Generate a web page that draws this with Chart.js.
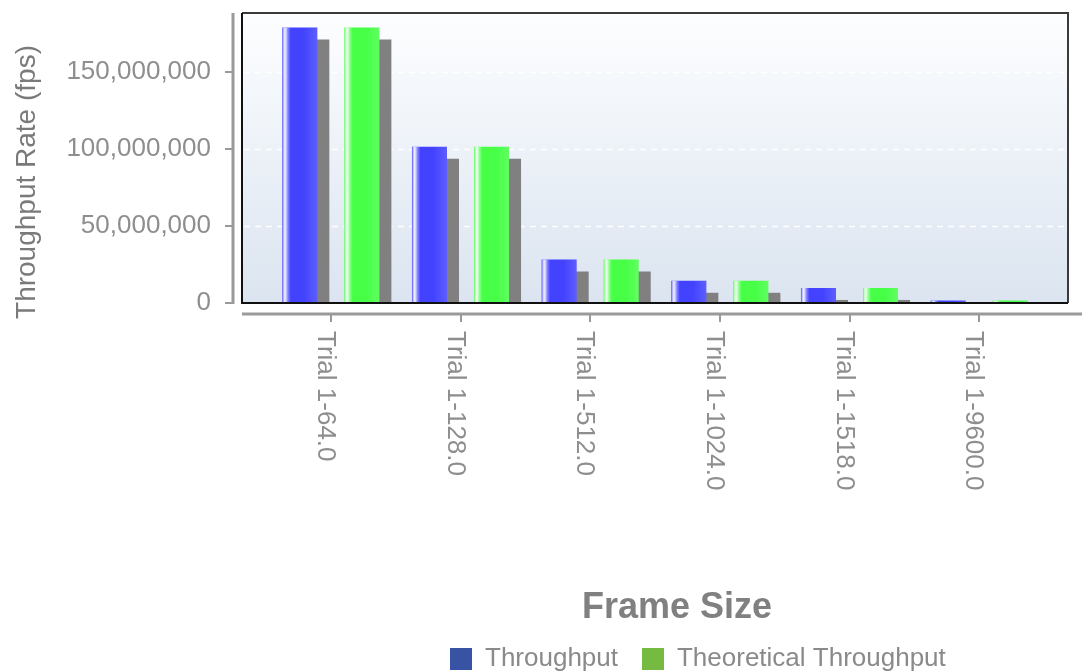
<!DOCTYPE html>
<html>
<head>
<meta charset="utf-8">
<title>Throughput by Frame Size</title>
<script src="https://cdn.jsdelivr.net/npm/chart.js@4.4.1/dist/chart.umd.min.js"></script>
<style>
  html, body { margin: 0; padding: 0; background: #ffffff; overflow: hidden; }
  canvas { display: block; }
</style>
</head>
<body>
<canvas id="chart" width="1082" height="672"></canvas>
<script>
// Frame sizes tested
const categories = ['Trial 1-64.0', 'Trial 1-128.0', 'Trial 1-512.0', 'Trial 1-1024.0', 'Trial 1-1518.0', 'Trial 1-9600.0'];
// Measured and theoretical frame rates (frames per second)
const throughput = [178600000, 101300000, 28200000, 14400000, 9750000, 1560000];
const theoreticalThroughput = [178600000, 101300000, 28200000, 14400000, 9750000, 1560000];
// Value axis
const yTicks = [0, 50000000, 100000000, 150000000];
const yMax = 188000000;
const seriesNames = ['Throughput', 'Theoretical Throughput'];

const FONT = '"Liberation Sans", Arial, Helvetica, sans-serif';
const barColors = ['#4343ff', '#46ff46'];
const legendColors = ['#3953a4', '#76bb41'];
const SHADOW = 12;      // drop shadow offset
const BOX_EXTRA = 24;   // frame extends beyond the category band
const PLOT_BOTTOM = 303;

function frameRect(chart) {
  const a = chart.chartArea;
  return { l: a.left - BOX_EXTRA, r: a.right + BOX_EXTRA, t: a.top, b: a.bottom };
}

const decorations = {
  id: 'decorations',
  afterLayout(chart) {
    // place the legend row under the axis title
    const lg = chart.legend;
    if (!lg || !lg.lineWidths) return;
    const pad = lg.options.labels.padding;
    const start = (lg.left + pad + lg.right - lg.lineWidths[0]) / 2;
    const dx = 450 - start;
    const dy = 646 - (lg.top + pad);
    lg.left += dx; lg.right += dx;
    lg.top += dy; lg.bottom += dy;
  },
  beforeDatasetsDraw(chart) {
    const ctx = chart.ctx;
    const f = frameRect(chart);
    const y = chart.scales.y;
    const x = chart.scales.x;

    // plot background
    const bg = ctx.createLinearGradient(0, f.t, 0, f.b);
    bg.addColorStop(0, '#fdfeff');
    bg.addColorStop(1, '#dbe4f0');
    ctx.save();
    ctx.fillStyle = bg;
    ctx.fillRect(f.l, f.t, f.r - f.l, f.b - f.t);

    // dashed grid lines
    ctx.strokeStyle = 'rgba(255,255,255,0.95)';
    ctx.lineWidth = 1.5;
    ctx.setLineDash([6, 5]);
    y.ticks.forEach(t => {
      if (t.value === 0) return;
      const py = Math.round(y.getPixelForValue(t.value)) + 0.5;
      ctx.beginPath(); ctx.moveTo(f.l + 2, py); ctx.lineTo(f.r - 2, py); ctx.stroke();
    });
    ctx.setLineDash([]);

    // detached value axis line with ticks
    ctx.strokeStyle = '#9a9a9a';
    ctx.lineWidth = 3;
    const ax = f.l - 9;
    ctx.beginPath(); ctx.moveTo(ax, f.t); ctx.lineTo(ax, f.b + 1); ctx.stroke();
    ctx.lineWidth = 2;
    y.ticks.forEach(t => {
      const py = Math.round(y.getPixelForValue(t.value));
      ctx.beginPath(); ctx.moveTo(ax - 8, py); ctx.lineTo(ax, py); ctx.stroke();
    });

    // detached category axis line with ticks
    const ay = f.b + 11;
    ctx.lineWidth = 3;
    ctx.beginPath(); ctx.moveTo(f.l, ay); ctx.lineTo(chart.width, ay); ctx.stroke();
    ctx.lineWidth = 2;
    categories.forEach((c, i) => {
      const px = Math.round(x.getPixelForValue(i));
      ctx.beginPath(); ctx.moveTo(px, ay); ctx.lineTo(px, ay + 8); ctx.stroke();
    });

    // bar drop shadows
    ctx.beginPath();
    ctx.rect(f.l, f.t, f.r - f.l, f.b - f.t);
    ctx.clip();
    ctx.fillStyle = '#808080';
    chart.data.datasets.forEach((ds, di) => {
      chart.getDatasetMeta(di).data.forEach(el => {
        const p = el.getProps(['x', 'y', 'base', 'width'], true);
        const l = p.x - p.width / 2 + SHADOW;
        const top = p.y + SHADOW;
        if (top < p.base) ctx.fillRect(l, top, p.width, p.base - top);
      });
    });
    ctx.restore();
  },
  afterDatasetsDraw(chart) {
    const ctx = chart.ctx;
    const f = frameRect(chart);
    ctx.save();
    // glossy highlight on each bar
    chart.data.datasets.forEach((ds, di) => {
      chart.getDatasetMeta(di).data.forEach(el => {
        const p = el.getProps(['x', 'y', 'base', 'width'], true);
        const l = p.x - p.width / 2;
        const g = ctx.createLinearGradient(l, 0, l + p.width, 0);
        g.addColorStop(0, 'rgba(255,255,255,0)');
        g.addColorStop(0.03, 'rgba(255,255,255,0.55)');
        g.addColorStop(0.07, 'rgba(255,255,255,0.92)');
        g.addColorStop(0.11, 'rgba(255,255,255,0.75)');
        g.addColorStop(0.16, 'rgba(255,255,255,0.35)');
        g.addColorStop(0.24, 'rgba(255,255,255,0)');
        g.addColorStop(0.62, 'rgba(255,255,255,0)');
        g.addColorStop(1, 'rgba(255,255,255,0.14)');
        ctx.fillStyle = g;
        ctx.fillRect(l, p.y, p.width, p.base - p.y);
      });
    });
    // plot frame
    ctx.lineWidth = 2;
    ctx.strokeStyle = '#3a3a3a';
    ctx.beginPath(); ctx.moveTo(f.l, f.t); ctx.lineTo(f.r, f.t); ctx.lineTo(f.r, f.b); ctx.stroke();
    ctx.strokeStyle = '#111111';
    ctx.beginPath(); ctx.moveTo(f.l, f.t); ctx.lineTo(f.l, f.b); ctx.lineTo(f.r, f.b); ctx.stroke();
    ctx.restore();
  },
  afterDraw(chart) {
    const ctx = chart.ctx;
    const x = chart.scales.x;
    const a = chart.chartArea;
    ctx.save();
    // category labels, rotated to read downward
    ctx.font = '26px ' + FONT;
    ctx.fillStyle = '#8e8e8e';
    ctx.textAlign = 'left';
    ctx.textBaseline = 'alphabetic';
    categories.forEach((c, i) => {
      const px = x.getPixelForValue(i);
      ctx.save();
      ctx.translate(px, a.bottom + 28);
      ctx.rotate(Math.PI / 2);
      ctx.fillText(c, 0, 13);
      ctx.restore();
    });
    // value axis title
    ctx.font = '28px ' + FONT;
    ctx.fillStyle = '#7a7a7a';
    ctx.textAlign = 'center';
    ctx.textBaseline = 'middle';
    ctx.save();
    ctx.translate(27, 182);
    ctx.rotate(-Math.PI / 2);
    ctx.fillText('Throughput Rate (fps)', 0, 0);
    ctx.restore();
    // category axis title
    ctx.font = 'bold 36px ' + FONT;
    ctx.fillStyle = '#808080';
    ctx.fillText('Frame Size', (a.left + a.right) / 2 + 22, 608);
    ctx.restore();
  }
};

new Chart(document.getElementById('chart'), {
  type: 'bar',
  data: {
    labels: categories,
    datasets: [
      { label: seriesNames[0], data: throughput, backgroundColor: barColors[0], borderWidth: 0 },
      { label: seriesNames[1], data: theoreticalThroughput, backgroundColor: barColors[1], borderWidth: 0 }
    ]
  },
  options: {
    responsive: false,
    animation: false,
    events: [],
    categoryPercentage: 0.957,
    barPercentage: 0.565,
    layout: { padding: { top: 13, right: 38, bottom: 0, left: 0 } },
    scales: {
      x: {
        type: 'category',
        offset: true,
        grid: { display: false, drawTicks: false },
        border: { display: false },
        ticks: { display: false },
        afterFit(s) {
          const lg = s.chart.legend;
          const legendH = lg && lg.height ? lg.height : 59;
          s.height = s.chart.height - legendH - PLOT_BOTTOM;
          s.paddingLeft = s.paddingRight = s.paddingTop = s.paddingBottom = 0;
        }
      },
      y: {
        min: 0,
        max: yMax,
        grid: { display: false, drawTicks: false },
        border: { display: false },
        ticks: {
          padding: 55,
          color: '#8e8e8e',
          font: { family: FONT, size: 26 },
          callback: v => Number(v).toLocaleString('en-US')
        },
        afterBuildTicks(s) { s.ticks = yTicks.map(v => ({ value: v })); },
        afterFit(s) {
          s.width = 266;
          s.paddingLeft = s.paddingRight = s.paddingTop = s.paddingBottom = 0;
        }
      }
    },
    plugins: {
      tooltip: { enabled: false },
      legend: {
        position: 'bottom',
        labels: {
          boxWidth: 22,
          boxHeight: 22,
          padding: 24,
          color: '#8a8a8a',
          font: { family: FONT, size: 26 },
          generateLabels(chart) {
            return chart.data.datasets.map((ds, i) => ({
              text: ds.label,
              fillStyle: legendColors[i],
              strokeStyle: legendColors[i],
              lineWidth: 0,
              fontColor: '#8a8a8a',
              hidden: false,
              datasetIndex: i
            }));
          }
        }
      }
    }
  },
  plugins: [decorations]
});
</script>
</body>
</html>
